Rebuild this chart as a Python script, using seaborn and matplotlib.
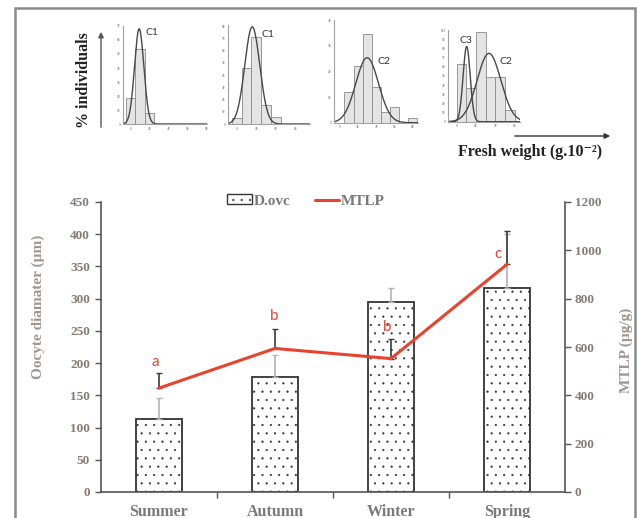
import numpy as np
import matplotlib
matplotlib.use('Agg')
import matplotlib.pyplot as plt
import seaborn as sns
from matplotlib.patches import Patch
from matplotlib.lines import Line2D

# ---------------- data ----------------
seasons = ['Summer', 'Autumn', 'Winter', 'Spring']
dovc = [113, 178, 295, 316]          # oocyte diameter (µm)
dovc_err = [33, 34, 21, 84]
mtlp = [430, 594, 552, 942]          # MTLP (µg/g)
mtlp_err = [64, 79, 83, 138]
sig_letters = ['a', 'b', 'b', 'c']

left_ticks = list(range(0, 451, 50))
right_ticks = list(range(0, 1201, 200))

# size-frequency histograms (fresh weight, g.10^-2) with fitted cohorts
h1_edges = [-5, 5, 15, 25]
h1_counts = [18.3, 53.6, 8.1]
h1_fits = [('C1', 9, 4.9, 68)]

h2_edges = [-5, 5, 15, 25, 35, 45]
h2_counts = [4.7, 45.8, 71.2, 15.6, 5.5]
h2_fits = [('C1', 16, 7.7, 79.5)]

h3_edges = [5, 15, 25, 35, 45, 55, 65, 75, 85]
h3_counts = [12.1, 22.1, 34.4, 14.0, 4.0, 6.2, 0, 1.9]
h3_fits = [('C2', 30, 12.5, 25.3)]

h4_edges = [0, 10, 20, 30, 40, 50, 60]
h4_counts = [62.5, 37, 98, 49, 49, 12.7]
h4_fits = [('C3', 10.3, 3.7, 82), ('C2', 33.4, 12.3, 74.5)]

# ---------------- style ----------------
sns.set_style('white')
plt.rcParams['font.family'] = ['Liberation Serif', 'DejaVu Serif']
plt.rcParams['font.weight'] = 'bold'
plt.rcParams['axes.labelweight'] = 'bold'
plt.rcParams['hatch.linewidth'] = 0.35

W, H = 637, 518
fig = plt.figure(figsize=(W / 100, H / 100), dpi=100)


def fax(x0, x1, ytop, ybot):
    return fig.add_axes([x0 / W, 1 - ybot / H, (x1 - x0) / W, (ybot - ytop) / H])


# overlay for frame, arrows and free texts
ov = fig.add_axes([0, 0, 1, 1])
ov.set_xlim(0, W)
ov.set_ylim(H, 0)
ov.axis('off')
ov.plot([15, 15, 635, 635], [H, 8, 8, H], color='#8a8a8a', lw=1.8, solid_joinstyle='miter')
ov.annotate('', xy=(101, 29), xytext=(101, 130),
            arrowprops=dict(arrowstyle='-|>', color='#555', lw=1.0, mutation_scale=8))
ov.annotate('', xy=(613, 136), xytext=(512, 136),
            arrowprops=dict(arrowstyle='-|>', color='#333', lw=1.0, mutation_scale=8))
ov.text(84, 80, '% individuals', rotation=90, ha='center', va='center',
        fontsize=11.5, color='#222')
ov.text(530, 152, 'Fresh weight (g.10⁻²)', ha='center', va='center',
        fontsize=11.5, color='#222', family=['Liberation Serif', 'DejaVu Serif'])

# ---------------- histogram panels ----------------
panels = [
    (h1_edges, h1_counts, h1_fits, (123.3, 206.7, 26, 124), (-7.7, 80), (0, 70),
     [0, 20, 40, 60, 80], [(15.9, 65)]),
    (h2_edges, h2_counts, h2_fits, (228.3, 310, 25, 124), (-8.6, 75.2), (0, 81),
     [0, 20, 40, 60], [(25.6, 73.6)]),
    (h3_edges, h3_counts, h3_fits, (334, 418, 20, 122.7), (-6.5, 86), (0, 40),
     [0, 20, 40, 60, 80], [(41.8, 23.8)]),
    (h4_edges, h4_counts, h4_fits, (448.3, 520, 30, 121.7), (-8.7, 65.5), (0, 100),
     [0, 20, 40, 60], [(3.4, 89), (44.8, 65.4)]),
]
for edges, counts, fits, box, xl, yl, xt, lab_pos in panels:
    a = fax(*box)
    a.patch.set_alpha(0)
    centers = [(edges[i] + edges[i + 1]) / 2 for i in range(len(counts))]
    sns.histplot(x=centers, weights=counts, bins=edges, ax=a, color='#e4e4e4',
                 edgecolor='#8a8a8a', linewidth=0.6, alpha=1)
    xs = np.linspace(xl[0], xl[1], 300)
    for (name, mu, sd, peak), (tx, ty) in zip(fits, lab_pos):
        sns.lineplot(x=xs, y=peak * np.exp(-0.5 * ((xs - mu) / sd) ** 2), ax=a,
                     color='#474747', linewidth=1.0)
        a.text(tx, ty, name, ha='left', va='center', fontsize=7.5,
               family='Lato', weight='normal', color='#333')
    a.set_xlim(*xl)
    a.set_ylim(*yl)
    a.set_xticks(xt)
    a.set_yticks(list(range(0, int(yl[1]) + 1, 10)))
    a.set_xlabel('')
    a.set_ylabel('')
    a.tick_params(length=1, width=0.5, pad=1, labelsize=2.5, labelcolor='#999', color='#aaa')
    for s in ['top', 'right']:
        a.spines[s].set_visible(False)
    for s in ['left', 'bottom']:
        a.spines[s].set_color('#a0a0a0')
        a.spines[s].set_linewidth(0.8)

# ---------------- main chart ----------------
ax = fax(101, 565, 202, 492)
x = np.arange(len(seasons))
sns.barplot(x=seasons, y=dovc, ax=ax, color='white', edgecolor='#333', linewidth=1.3,
            width=0.4, hatch='..', errorbar=None, saturation=1)
ax.errorbar(x, dovc, yerr=[np.zeros(len(x)), dovc_err], fmt='none', ecolor='#b3b3b3',
            elinewidth=1.2, capsize=2, capthick=1, zorder=3)
ax.set_ylim(0, 450)
ax.set_yticks(left_ticks)
ax.set_xlim(-0.5, len(seasons) - 0.5)

ax2 = ax.twinx()
ax2.errorbar(x, mtlp, yerr=[np.zeros(len(x)), mtlp_err], fmt='none', ecolor='#3a3a3a',
             elinewidth=1.2, capsize=2, capthick=1, zorder=2)
sns.lineplot(x=x, y=mtlp, ax=ax2, color='#e8432d', linewidth=2.2, zorder=3)
ax2.set_ylim(0, 1200)
ax2.set_yticks(right_ticks)

offsets = [(-3, 8), (-0.7, 9.4), (-3, 8), (-6.5, -16.6)]
for xi, m, e, lt, off in zip(x, mtlp, mtlp_err, sig_letters, offsets):
    ax2.annotate(lt, (xi, m + e), xytext=off, textcoords='offset points', ha='center',
                 va='center', fontsize=11, family='Lato', weight='normal', color='#e8432d')

ax.set_xlim(-0.5, len(seasons) - 0.5)
ax.set_xticks(x)
ax.set_xticklabels(seasons)
ax.set_xticks([0.5, 1.5, 2.5], minor=True)
ax.tick_params(axis='x', which='major', length=0, pad=9, labelsize=11.5, labelcolor='#7a7a7a')
ax.tick_params(axis='x', which='minor', length=4, width=1, color='#555', direction='out', bottom=True)
ax.tick_params(axis='y', direction='out', length=4, width=1, color='#555', pad=4,
               labelsize=9.5, labelcolor='#857a75', left=True)
ax2.tick_params(axis='y', direction='out', length=4, width=1, color='#555', pad=3,
                labelsize=9.5, labelcolor='#857a75', right=True)

for s in ['top', 'right']:
    ax.spines[s].set_visible(False)
for s in ['left', 'bottom']:
    ax.spines[s].set_color('#555')
    ax.spines[s].set_linewidth(1.2)
for s in ['top', 'left', 'bottom']:
    ax2.spines[s].set_visible(False)
ax2.spines['right'].set_color('#555')
ax2.spines['right'].set_linewidth(1.2)

ax.set_xlabel('')
ax.set_ylabel('Oocyte diamater (µm)', fontsize=11, color='#a0968f', fontweight='bold')
ax.yaxis.set_label_coords(-0.1207, 0.638)
ax2.set_ylabel('MTLP (µg/g)', fontsize=11, color='#a0968f', fontweight='bold')
ax2.yaxis.set_label_coords(1.1185, 0.49)

handles = [Patch(facecolor='white', edgecolor='#333', hatch='..', linewidth=1.0),
           Line2D([], [], color='#e8432d', linewidth=2.2)]
ax2.legend(handles, ['D.ovc', 'MTLP'], loc='center', bbox_to_anchor=(306 / W, 1 - 201 / H),
           bbox_transform=fig.transFigure, ncol=2, frameon=False, fontsize=11,
           handlelength=1.6, handleheight=0.55, handletextpad=0.1, columnspacing=1.6,
           labelcolor='#777')

fig.savefig('out.png', dpi=100)
